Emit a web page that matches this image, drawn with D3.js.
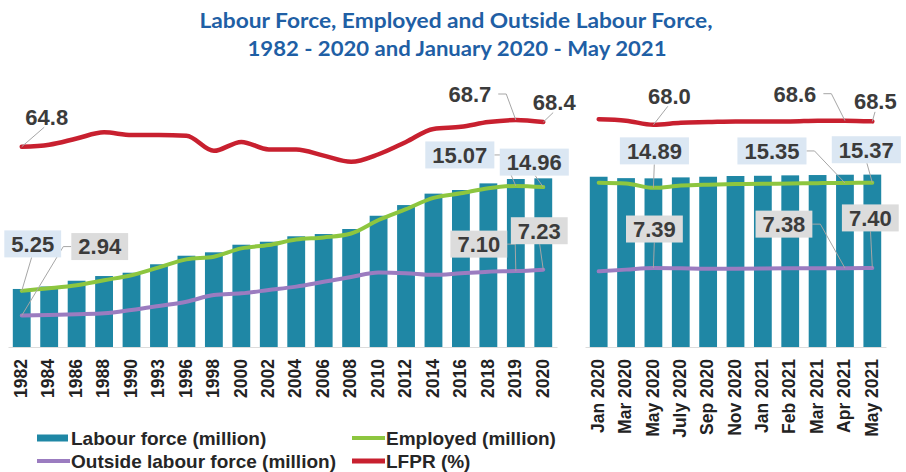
<!DOCTYPE html>
<html>
<head>
<meta charset="utf-8">
<script src="https://cdn.jsdelivr.net/npm/d3@7"></script>
<style>
  body { margin: 0; background: #fff; }
  svg { display: block; }
</style>
</head>
<body>
<div class="chart"></div>
<script>
let width = 906;
let height = 472;

// yearly series 1982 - 2020
let years = ['1982','1984','1986','1988','1990','1993','1996','1998','2000','2002',
             '2004','2006','2008','2010','2012','2014','2016','2018','2019','2020'];
let labourYear   = [5.43, 5.66, 6.20, 6.64, 6.95, 7.74, 8.54, 8.86, 9.57, 9.85,
                    10.36, 10.57, 11.04, 12.28, 13.28, 14.35, 14.69, 15.31, 15.72, 15.78];
let employedYear = [5.25, 5.49, 5.78, 6.25, 6.72, 7.45, 8.20, 8.45, 9.23, 9.54,
                    10.05, 10.25, 10.62, 11.88, 12.90, 13.95, 14.38, 14.85, 15.07, 14.96];
let outsideYear  = [2.94, 2.99, 3.06, 3.15, 3.46, 3.84, 4.24, 4.86, 5.02, 5.33,
                    5.65, 6.10, 6.55, 6.96, 6.90, 6.75, 6.90, 7.05, 7.10, 7.23];
let lfprYear     = [64.8, 65.1, 66.0, 66.9, 66.5, 66.5, 66.4, 64.2, 65.5, 64.4,
                    64.4, 63.5, 62.6, 63.7, 65.5, 67.4, 67.7, 68.4, 68.7, 68.4];

// monthly series Jan 2020 - May 2021
let months = ['Jan 2020','Mar 2020','May 2020','July 2020','Sep 2020','Nov 2020',
              'Jan 2021','Feb 2021','Mar 2021','Apr 2021','May 2021'];
let labourMonth   = [15.93, 15.80, 15.78, 15.87, 15.93, 16.00, 16.02, 16.06, 16.09, 16.12, 16.13];
let employedMonth = [15.38, 15.30, 14.89, 15.10, 15.19, 15.24, 15.27, 15.30, 15.33, 15.35, 15.37];
let outsideMonth  = [7.08, 7.24, 7.39, 7.36, 7.33, 7.33, 7.35, 7.36, 7.37, 7.38, 7.40];
let lfprMonth     = [68.8, 68.6, 68.0, 68.3, 68.4, 68.5, 68.5, 68.5, 68.6, 68.6, 68.5];

let colors = {
  labour: '#1f87a5',
  employed: '#8dc63f',
  outside: '#9b7cc0',
  lfpr: '#c8202f'
};

let panels = [
  { cats: years,  labour: labourYear,  employed: employedYear,  outside: outsideYear,  lfpr: lfprYear,  x0: 8,   x1: 557 },
  { cats: months, labour: labourMonth, employed: employedMonth, outside: outsideMonth, lfpr: lfprMonth, x0: 585, x1: 886 }
];

// which values get a callout and where the callout sits relative to the point
let callouts = [
  {p: 0, s: 'lfpr',     i: 0,  dx: 25,  dy: -30},
  {p: 0, s: 'employed', i: 0,  dx: 11,  dy: -47},
  {p: 0, s: 'outside',  i: 0,  dx: 78,  dy: -69},
  {p: 0, s: 'lfpr',     i: 18, dx: -46, dy: -26},
  {p: 0, s: 'lfpr',     i: 19, dx: 11,  dy: -20},
  {p: 0, s: 'employed', i: 18, dx: -56, dy: -31},
  {p: 0, s: 'employed', i: 19, dx: -9,  dy: -25},
  {p: 0, s: 'outside',  i: 18, dx: -37, dy: -27},
  {p: 0, s: 'outside',  i: 19, dx: -4,  dy: -39},
  {p: 1, s: 'lfpr',     i: 2,  dx: 16,  dy: -29},
  {p: 1, s: 'lfpr',     i: 9,  dx: -50, dy: -27},
  {p: 1, s: 'lfpr',     i: 10, dx: 3,   dy: -20},
  {p: 1, s: 'employed', i: 2,  dx: 1,   dy: -37},
  {p: 1, s: 'employed', i: 9,  dx: -73, dy: -32},
  {p: 1, s: 'employed', i: 10, dx: -6,  dy: -33},
  {p: 1, s: 'outside',  i: 2,  dx: 1,   dy: -39},
  {p: 1, s: 'outside',  i: 9,  dx: -61, dy: -44},
  {p: 1, s: 'outside',  i: 10, dx: -2,  dy: -50}
];

let svg = d3.select('.chart')
  .append('svg')
  .attr('width', width)
  .attr('height', height)
  .style('font-family', 'Liberation Sans, Arial, sans-serif');

// title
let title = svg.append('g')
  .attr('fill', '#1f5fa5')
  .style('font-family', 'Lato, sans-serif')
  .style('font-weight', 700)
  .style('font-size', '21px')
  .attr('text-anchor', 'middle');
title.append('text').attr('x', 456).attr('y', 28)
  .attr('textLength', 513).attr('lengthAdjust', 'spacingAndGlyphs')
  .text('Labour Force, Employed and Outside Labour Force,');
title.append('text').attr('x', 457).attr('y', 56)
  .attr('textLength', 419).attr('lengthAdjust', 'spacingAndGlyphs')
  .text('1982 - 2020 and January 2020 - May 2021');

let yScale = d3.scaleLinear().domain([0, 16]).range([347, 176]);
let rateScale = d3.scaleLinear().domain([60, 70]).range([179.6, 111.1]);

let fmt2 = d3.format('.2f');
let fmt1 = d3.format('.1f');

panels.forEach((pn, pi) => {
  let xScale = d3.scaleBand()
    .domain(pn.cats)
    .range([pn.x0, pn.x1])
    .paddingInner(0.35)
    .paddingOuter(0.175);
  pn.xScale = xScale;
  let cx = (d, i) => xScale(pn.cats[i]) + xScale.bandwidth() / 2;

  let g = svg.append('g').attr('class', 'panel-' + pi);

  g.selectAll('rect.bar')
    .data(pn.labour)
    .enter()
    .append('rect')
    .attr('class', 'bar')
    .attr('x', (d, i) => xScale(pn.cats[i]))
    .attr('width', xScale.bandwidth())
    .attr('y', d => yScale(d))
    .attr('height', d => yScale(0) - yScale(d))
    .attr('fill', colors.labour);

  let xAxis = d3.axisBottom(xScale).tickSize(0).tickSizeOuter(0);
  let ax = g.append('g')
    .attr('transform', 'translate(0,' + yScale(0) + ')')
    .call(xAxis);
  ax.select('.domain').attr('stroke', '#dcdcdc');
  ax.selectAll('text')
    .attr('transform', 'rotate(-90)')
    .attr('x', -12)
    .attr('y', 0)
    .attr('dy', '0.3em')
    .style('text-anchor', 'end')
    .style('font-family', 'Liberation Sans, Arial, sans-serif')
    .style('font-size', '17.5px')
    .style('font-weight', 700)
    .attr('fill', '#222');

  let lineMillion = d3.line().x(cx).y(d => yScale(d)).curve(d3.curveMonotoneX);
  let lineRate = d3.line().x(cx).y(d => rateScale(d)).curve(d3.curveMonotoneX);

  g.append('path').datum(pn.outside)
    .attr('d', lineMillion).attr('fill', 'none')
    .attr('stroke', colors.outside).attr('stroke-width', 4).attr('stroke-linecap', 'round');
  g.append('path').datum(pn.employed)
    .attr('d', lineMillion).attr('fill', 'none')
    .attr('stroke', colors.employed).attr('stroke-width', 4).attr('stroke-linecap', 'round');
  g.append('path').datum(pn.lfpr)
    .attr('d', lineRate).attr('fill', 'none')
    .attr('stroke', colors.lfpr).attr('stroke-width', 4.5).attr('stroke-linecap', 'round');
});

// callouts
let leaderLayer = svg.append('g');
let labelLayer = svg.append('g');
callouts.forEach(c => {
  let pn = panels[c.p];
  let v = pn[c.s][c.i];
  let px = pn.xScale(pn.cats[c.i]) + pn.xScale.bandwidth() / 2;
  let py = c.s === 'lfpr' ? rateScale(v) : yScale(v);
  let bx = px + c.dx;
  let by = py + c.dy;
  let fill = c.s === 'employed' ? '#dbe7f3' : (c.s === 'outside' ? '#dcdcdc' : 'none');

  let lg = labelLayer.append('g');
  let rect = lg.append('rect');
  let txt = lg.append('text')
    .attr('x', bx)
    .attr('y', by)
    .attr('dy', '0.36em')
    .attr('text-anchor', 'middle')
    .style('font-size', '22px')
    .style('font-weight', 700)
    .attr('fill', '#3b3b3b')
    .text(c.s === 'lfpr' ? fmt1(v) : fmt2(v));
  let tw = txt.node().getComputedTextLength();
  let hw = (tw + 14) / 2;
  let hh = 13.5;
  rect.attr('x', bx - hw).attr('y', by - hh)
    .attr('width', hw * 2).attr('height', hh * 2)
    .attr('fill', fill);

  let pts;
  if (Math.abs(c.dx) <= hw) {
    pts = [[bx - c.dx * 0.1, by + hh - (fill === 'none' ? 3 : 0)], [px, py]];
  } else if (c.dx < 0) {
    pts = [[bx + hw, by], [bx + hw + 8, by], [px, py]];
  } else {
    pts = [[bx - hw, by], [bx - hw - 8, by], [px, py]];
  }
  leaderLayer.append('path')
    .attr('d', d3.line()(pts))
    .attr('fill', 'none')
    .attr('stroke', '#a6a6a6')
    .attr('stroke-width', 1);
});

// legend
let legendItems = [
  {name: 'Labour force (million)',          key: 'labour',   kind: 'rect', col: 0, row: 0},
  {name: 'Employed (million)',              key: 'employed', kind: 'line', col: 1, row: 0},
  {name: 'Outside labour force (million)',  key: 'outside',  kind: 'line', col: 0, row: 1},
  {name: 'LFPR (%)',                        key: 'lfpr',     kind: 'line', col: 1, row: 1}
];
let legendCols = [37, 352];
let legendRows = [438, 461];
let legend = svg.append('g').attr('id', 'legend');
legendItems.forEach(it => {
  let x = legendCols[it.col];
  let y = legendRows[it.row];
  if (it.kind === 'rect') {
    legend.append('rect').attr('x', x).attr('y', y - 3.5)
      .attr('width', 31).attr('height', 7).attr('fill', colors[it.key]);
  } else {
    legend.append('line').attr('x1', x).attr('x2', x + 33)
      .attr('y1', y).attr('y2', y)
      .attr('stroke', colors[it.key]).attr('stroke-width', it.key === 'lfpr' ? 5 : 4);
  }
  legend.append('text')
    .attr('x', x + 34)
    .attr('y', y)
    .attr('dy', '0.36em')
    .style('font-size', '19px')
    .style('font-weight', 700)
    .attr('fill', '#262626')
    .text(it.name);
});
</script>
</body>
</html>
